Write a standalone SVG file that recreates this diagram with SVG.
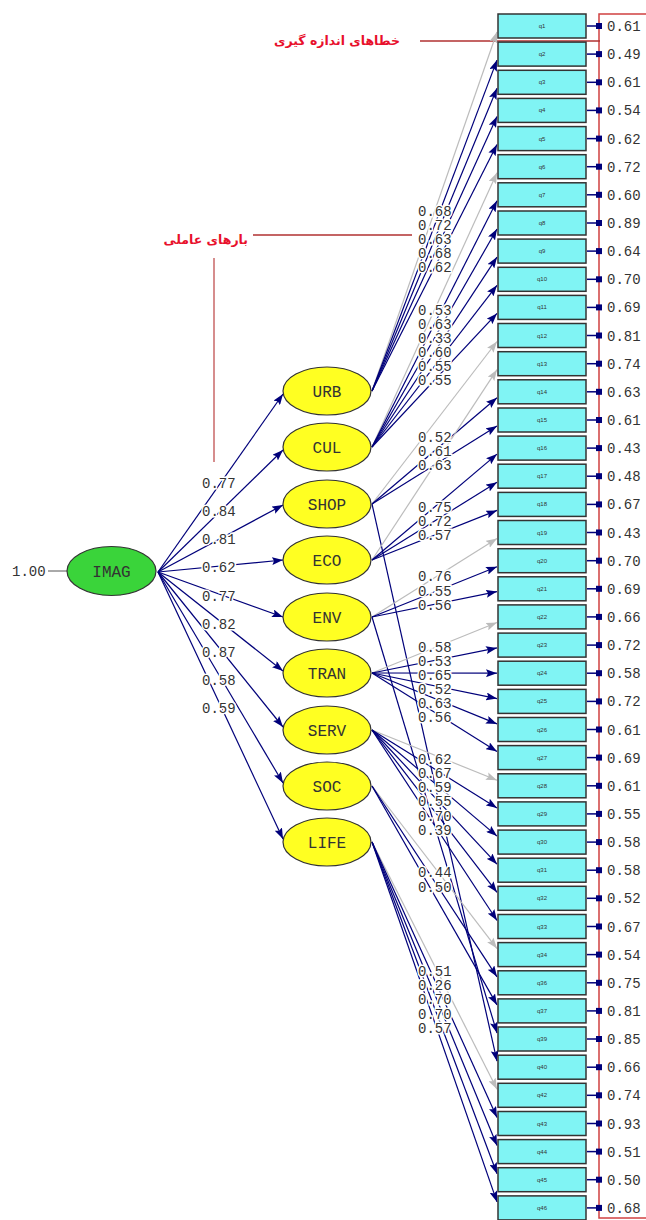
<svg xmlns="http://www.w3.org/2000/svg" width="646" height="1220" viewBox="0 0 646 1220">
<style>
.ln{stroke:#00007a;stroke-width:1.2;fill:none;marker-end:url(#an)}
.lg{stroke:#bcbcbc;stroke-width:1.2;fill:none;marker-end:url(#ag)}
.lbl{font-family:"Liberation Mono",monospace;font-size:14px;fill:#333;stroke:#fff;stroke-width:3;paint-order:stroke}
.box{fill:#80f4f4;stroke:#333;stroke-width:1.5}
.bt{font-family:"Liberation Sans",sans-serif;font-size:6px;fill:#333;text-anchor:middle}
.ev{font-family:"Liberation Mono",monospace;font-size:14px;fill:#333}
.ea{stroke:#00007a;stroke-width:1.5}
.es{fill:#00007a}
.lat{fill:#ffff22;stroke:#333;stroke-width:1.2}
.lt{font-family:"Liberation Mono",monospace;font-size:16px;fill:#333;text-anchor:middle}
.ar{font-family:"DejaVu Sans",sans-serif;font-size:12.5px;font-weight:bold;fill:#e8102c;text-anchor:end}
.rl{stroke:#b03030;stroke-width:1.3;fill:none}
</style>
<defs>
<marker id="an" markerUnits="userSpaceOnUse" markerWidth="12" markerHeight="8" refX="11" refY="4" orient="auto"><path d="M0,0 L11,4 L0,8 L2,4 z" fill="#00007a"/></marker>
<marker id="ag" markerUnits="userSpaceOnUse" markerWidth="12" markerHeight="8" refX="11" refY="4" orient="auto"><path d="M0,0 L11,4 L0,8 L2,4 z" fill="#bcbcbc"/></marker>
</defs>
<rect width="646" height="1220" fill="#fff"/>

<g id="annotations">
<rect x="599" y="14" width="60" height="1204" fill="none" stroke="#d04040" stroke-width="1.5"/>
<text class="ar" x="400" y="45">خطاهای اندازه گیری</text>
<path class="rl" d="M420,41H600"/>
<text class="ar" x="248" y="244">بارهای عاملی</text>
<path class="rl" d="M253,235H412"/>
<path d="M214,258V462" stroke="#c05050" stroke-width="1.3"/>
</g>

<g id="connectors">
<path d="M48,571H67" stroke="#555" stroke-width="1"/>
<path class="ln" d="M158,572L283,394"/>
<path class="ln" d="M158,572L283,450"/>
<path class="ln" d="M158,572L283,505"/>
<path class="ln" d="M158,572L283,560"/>
<path class="ln" d="M158,572L283,617"/>
<path class="ln" d="M158,572L283,671"/>
<path class="ln" d="M158,572L283,727"/>
<path class="ln" d="M158,572L283,783"/>
<path class="ln" d="M158,572L283,839"/>

<path class="lg" d="M372,391L497,32"/>
<path class="ln" d="M372,391L497,60.1"/>
<path class="ln" d="M372,391L497,88.3"/>
<path class="ln" d="M372,391L497,116.4"/>
<path class="ln" d="M372,391L497,144.6"/>

<path class="lg" d="M372,447L497,172.7"/>
<path class="ln" d="M372,447L497,200.8"/>
<path class="ln" d="M372,447L497,229"/>
<path class="ln" d="M372,447L497,257.1"/>
<path class="ln" d="M372,447L497,285.3"/>
<path class="ln" d="M372,447L497,313.4"/>

<path class="lg" d="M372,504L497,341.5"/>
<path class="ln" d="M372,504L497,397.8"/>
<path class="ln" d="M372,504L497,426"/>
<path class="ln" d="M372,504L497,1061.2"/>

<path class="lg" d="M372,560L497,369.7"/>
<path class="ln" d="M372,560L497,454.1"/>
<path class="ln" d="M372,560L497,482.2"/>
<path class="ln" d="M372,560L497,510.4"/>

<path class="lg" d="M372,617L497,538.5"/>
<path class="ln" d="M372,617L497,566.7"/>
<path class="ln" d="M372,617L497,591.6"/>
<path class="ln" d="M372,617L497,1033"/>

<path class="lg" d="M372,673L497,622.5"/>
<path class="ln" d="M372,673L497,647.9"/>
<path class="ln" d="M372,673L497,673.2"/>
<path class="ln" d="M372,673L497,698.6"/>
<path class="ln" d="M372,673L497,723.9"/>
<path class="ln" d="M372,673L497,751.6"/>

<path class="lg" d="M372,730L497,780.2"/>
<path class="ln" d="M372,730L497,807.9"/>
<path class="ln" d="M372,730L497,836.1"/>
<path class="ln" d="M372,730L497,864.2"/>
<path class="ln" d="M372,730L497,892.3"/>
<path class="ln" d="M372,730L497,920.5"/>

<path class="lg" d="M372,786L497,948.6"/>
<path class="ln" d="M372,786L497,976.8"/>
<path class="ln" d="M372,786L497,1004.9"/>

<path class="lg" d="M372,842L497,1089.3"/>
<path class="ln" d="M372,842L497,1117.5"/>
<path class="ln" d="M372,842L497,1145.6"/>
<path class="ln" d="M372,842L497,1173.7"/>
<path class="ln" d="M372,842L497,1201.9"/>
</g>

<g id="loadings">
<text class="lbl" x="12" y="576" stroke="none">1.00</text>
<text class="lbl" x="202" y="488">0.77</text>
<text class="lbl" x="202" y="516">0.84</text>
<text class="lbl" x="202" y="544">0.81</text>
<text class="lbl" x="202" y="572">0.62</text>
<text class="lbl" x="202" y="601">0.77</text>
<text class="lbl" x="202" y="629">0.82</text>
<text class="lbl" x="202" y="657">0.87</text>
<text class="lbl" x="202" y="685">0.58</text>
<text class="lbl" x="202" y="713">0.59</text>

<text class="lbl" x="418" y="216">0.68</text>
<text class="lbl" x="418" y="230">0.72</text>
<text class="lbl" x="418" y="244">0.63</text>
<text class="lbl" x="418" y="258">0.68</text>
<text class="lbl" x="418" y="272">0.62</text>

<text class="lbl" x="418" y="315">0.53</text>
<text class="lbl" x="418" y="329">0.63</text>
<text class="lbl" x="418" y="343">0.33</text>
<text class="lbl" x="418" y="357">0.60</text>
<text class="lbl" x="418" y="371">0.55</text>
<text class="lbl" x="418" y="385">0.55</text>

<text class="lbl" x="418" y="441.5">0.52</text>
<text class="lbl" x="418" y="456">0.61</text>
<text class="lbl" x="418" y="470">0.63</text>

<text class="lbl" x="418" y="512">0.75</text>
<text class="lbl" x="418" y="526">0.72</text>
<text class="lbl" x="418" y="540">0.57</text>

<text class="lbl" x="418" y="581">0.76</text>
<text class="lbl" x="418" y="595.5">0.55</text>
<text class="lbl" x="418" y="610">0.56</text>

<text class="lbl" x="418" y="652">0.58</text>
<text class="lbl" x="418" y="666">0.53</text>
<text class="lbl" x="418" y="680">0.65</text>
<text class="lbl" x="418" y="694">0.52</text>
<text class="lbl" x="418" y="708">0.63</text>
<text class="lbl" x="418" y="722">0.56</text>

<text class="lbl" x="418" y="764">0.62</text>
<text class="lbl" x="418" y="778">0.67</text>
<text class="lbl" x="418" y="792">0.59</text>
<text class="lbl" x="418" y="806">0.55</text>
<text class="lbl" x="418" y="820.5">0.70</text>
<text class="lbl" x="418" y="835">0.39</text>

<text class="lbl" x="418" y="876.5">0.44</text>
<text class="lbl" x="418" y="891.5">0.50</text>

<text class="lbl" x="418" y="976">0.51</text>
<text class="lbl" x="418" y="990">0.26</text>
<text class="lbl" x="418" y="1004">0.70</text>
<text class="lbl" x="418" y="1018.5">0.70</text>
<text class="lbl" x="418" y="1033">0.57</text>
</g>

<g id="IMAG"><ellipse cx="111.5" cy="571" rx="44.5" ry="24.5" fill="#3ad43a" stroke="#333" stroke-width="1.2"/><text class="lt" x="111.5" y="577">IMAG</text></g>
<g id="URB"><ellipse class="lat" cx="327" cy="391" rx="44" ry="24"/><text class="lt" x="327" y="397">URB</text></g>
<g id="CUL"><ellipse class="lat" cx="327" cy="447" rx="44" ry="24"/><text class="lt" x="327" y="453">CUL</text></g>
<g id="SHOP"><ellipse class="lat" cx="327" cy="504" rx="44" ry="24"/><text class="lt" x="327" y="510">SHOP</text></g>
<g id="ECO"><ellipse class="lat" cx="327" cy="560" rx="44" ry="24"/><text class="lt" x="327" y="566">ECO</text></g>
<g id="ENV"><ellipse class="lat" cx="327" cy="617" rx="44" ry="24"/><text class="lt" x="327" y="623">ENV</text></g>
<g id="TRAN"><ellipse class="lat" cx="327" cy="673" rx="44" ry="24"/><text class="lt" x="327" y="679">TRAN</text></g>
<g id="SERV"><ellipse class="lat" cx="327" cy="730" rx="44" ry="24"/><text class="lt" x="327" y="736">SERV</text></g>
<g id="SOC"><ellipse class="lat" cx="327" cy="786" rx="44" ry="24"/><text class="lt" x="327" y="792">SOC</text></g>
<g id="LIFE"><ellipse class="lat" cx="327" cy="842" rx="44" ry="24"/><text class="lt" x="327" y="848">LIFE</text></g>

<g id="q1" transform="translate(0,26)"><rect class="box" x="498" y="-12" width="88" height="24"/><text class="bt" x="542" y="2">q1</text><path class="ea" d="M587,0H599"/><rect class="es" x="596" y="-3" width="6" height="6"/><text class="ev" x="607" y="5">0.61</text></g>
<g id="q2" transform="translate(0,54.1)"><rect class="box" x="498" y="-12" width="88" height="24"/><text class="bt" x="542" y="2">q2</text><path class="ea" d="M587,0H599"/><rect class="es" x="596" y="-3" width="6" height="6"/><text class="ev" x="607" y="5">0.49</text></g>
<g id="q3" transform="translate(0,82.3)"><rect class="box" x="498" y="-12" width="88" height="24"/><text class="bt" x="542" y="2">q3</text><path class="ea" d="M587,0H599"/><rect class="es" x="596" y="-3" width="6" height="6"/><text class="ev" x="607" y="5">0.61</text></g>
<g id="q4" transform="translate(0,110.4)"><rect class="box" x="498" y="-12" width="88" height="24"/><text class="bt" x="542" y="2">q4</text><path class="ea" d="M587,0H599"/><rect class="es" x="596" y="-3" width="6" height="6"/><text class="ev" x="607" y="5">0.54</text></g>
<g id="q5" transform="translate(0,138.6)"><rect class="box" x="498" y="-12" width="88" height="24"/><text class="bt" x="542" y="2">q5</text><path class="ea" d="M587,0H599"/><rect class="es" x="596" y="-3" width="6" height="6"/><text class="ev" x="607" y="5">0.62</text></g>
<g id="q6" transform="translate(0,166.7)"><rect class="box" x="498" y="-12" width="88" height="24"/><text class="bt" x="542" y="2">q6</text><path class="ea" d="M587,0H599"/><rect class="es" x="596" y="-3" width="6" height="6"/><text class="ev" x="607" y="5">0.72</text></g>
<g id="q7" transform="translate(0,194.8)"><rect class="box" x="498" y="-12" width="88" height="24"/><text class="bt" x="542" y="2">q7</text><path class="ea" d="M587,0H599"/><rect class="es" x="596" y="-3" width="6" height="6"/><text class="ev" x="607" y="5">0.60</text></g>
<g id="q8" transform="translate(0,223)"><rect class="box" x="498" y="-12" width="88" height="24"/><text class="bt" x="542" y="2">q8</text><path class="ea" d="M587,0H599"/><rect class="es" x="596" y="-3" width="6" height="6"/><text class="ev" x="607" y="5">0.89</text></g>
<g id="q9" transform="translate(0,251.1)"><rect class="box" x="498" y="-12" width="88" height="24"/><text class="bt" x="542" y="2">q9</text><path class="ea" d="M587,0H599"/><rect class="es" x="596" y="-3" width="6" height="6"/><text class="ev" x="607" y="5">0.64</text></g>
<g id="q10" transform="translate(0,279.3)"><rect class="box" x="498" y="-12" width="88" height="24"/><text class="bt" x="542" y="2">q10</text><path class="ea" d="M587,0H599"/><rect class="es" x="596" y="-3" width="6" height="6"/><text class="ev" x="607" y="5">0.70</text></g>
<g id="q11" transform="translate(0,307.4)"><rect class="box" x="498" y="-12" width="88" height="24"/><text class="bt" x="542" y="2">q11</text><path class="ea" d="M587,0H599"/><rect class="es" x="596" y="-3" width="6" height="6"/><text class="ev" x="607" y="5">0.69</text></g>
<g id="q12" transform="translate(0,335.5)"><rect class="box" x="498" y="-12" width="88" height="24"/><text class="bt" x="542" y="2">q12</text><path class="ea" d="M587,0H599"/><rect class="es" x="596" y="-3" width="6" height="6"/><text class="ev" x="607" y="5">0.81</text></g>
<g id="q13" transform="translate(0,363.7)"><rect class="box" x="498" y="-12" width="88" height="24"/><text class="bt" x="542" y="2">q13</text><path class="ea" d="M587,0H599"/><rect class="es" x="596" y="-3" width="6" height="6"/><text class="ev" x="607" y="5">0.74</text></g>
<g id="q14" transform="translate(0,391.8)"><rect class="box" x="498" y="-12" width="88" height="24"/><text class="bt" x="542" y="2">q14</text><path class="ea" d="M587,0H599"/><rect class="es" x="596" y="-3" width="6" height="6"/><text class="ev" x="607" y="5">0.63</text></g>
<g id="q15" transform="translate(0,420)"><rect class="box" x="498" y="-12" width="88" height="24"/><text class="bt" x="542" y="2">q15</text><path class="ea" d="M587,0H599"/><rect class="es" x="596" y="-3" width="6" height="6"/><text class="ev" x="607" y="5">0.61</text></g>
<g id="q16" transform="translate(0,448.1)"><rect class="box" x="498" y="-12" width="88" height="24"/><text class="bt" x="542" y="2">q16</text><path class="ea" d="M587,0H599"/><rect class="es" x="596" y="-3" width="6" height="6"/><text class="ev" x="607" y="5">0.43</text></g>
<g id="q17" transform="translate(0,476.2)"><rect class="box" x="498" y="-12" width="88" height="24"/><text class="bt" x="542" y="2">q17</text><path class="ea" d="M587,0H599"/><rect class="es" x="596" y="-3" width="6" height="6"/><text class="ev" x="607" y="5">0.48</text></g>
<g id="q18" transform="translate(0,504.4)"><rect class="box" x="498" y="-12" width="88" height="24"/><text class="bt" x="542" y="2">q18</text><path class="ea" d="M587,0H599"/><rect class="es" x="596" y="-3" width="6" height="6"/><text class="ev" x="607" y="5">0.67</text></g>
<g id="q19" transform="translate(0,532.5)"><rect class="box" x="498" y="-12" width="88" height="24"/><text class="bt" x="542" y="2">q19</text><path class="ea" d="M587,0H599"/><rect class="es" x="596" y="-3" width="6" height="6"/><text class="ev" x="607" y="5">0.43</text></g>
<g id="q20" transform="translate(0,560.7)"><rect class="box" x="498" y="-12" width="88" height="24"/><text class="bt" x="542" y="2">q20</text><path class="ea" d="M587,0H599"/><rect class="es" x="596" y="-3" width="6" height="6"/><text class="ev" x="607" y="5">0.70</text></g>
<g id="q21" transform="translate(0,588.8)"><rect class="box" x="498" y="-12" width="88" height="24"/><text class="bt" x="542" y="2">q21</text><path class="ea" d="M587,0H599"/><rect class="es" x="596" y="-3" width="6" height="6"/><text class="ev" x="607" y="5">0.69</text></g>
<g id="q22" transform="translate(0,616.9)"><rect class="box" x="498" y="-12" width="88" height="24"/><text class="bt" x="542" y="2">q22</text><path class="ea" d="M587,0H599"/><rect class="es" x="596" y="-3" width="6" height="6"/><text class="ev" x="607" y="5">0.66</text></g>
<g id="q23" transform="translate(0,645.1)"><rect class="box" x="498" y="-12" width="88" height="24"/><text class="bt" x="542" y="2">q23</text><path class="ea" d="M587,0H599"/><rect class="es" x="596" y="-3" width="6" height="6"/><text class="ev" x="607" y="5">0.72</text></g>
<g id="q24" transform="translate(0,673.2)"><rect class="box" x="498" y="-12" width="88" height="24"/><text class="bt" x="542" y="2">q24</text><path class="ea" d="M587,0H599"/><rect class="es" x="596" y="-3" width="6" height="6"/><text class="ev" x="607" y="5">0.58</text></g>
<g id="q25" transform="translate(0,701.4)"><rect class="box" x="498" y="-12" width="88" height="24"/><text class="bt" x="542" y="2">q25</text><path class="ea" d="M587,0H599"/><rect class="es" x="596" y="-3" width="6" height="6"/><text class="ev" x="607" y="5">0.72</text></g>
<g id="q26" transform="translate(0,729.5)"><rect class="box" x="498" y="-12" width="88" height="24"/><text class="bt" x="542" y="2">q26</text><path class="ea" d="M587,0H599"/><rect class="es" x="596" y="-3" width="6" height="6"/><text class="ev" x="607" y="5">0.61</text></g>
<g id="q27" transform="translate(0,757.6)"><rect class="box" x="498" y="-12" width="88" height="24"/><text class="bt" x="542" y="2">q27</text><path class="ea" d="M587,0H599"/><rect class="es" x="596" y="-3" width="6" height="6"/><text class="ev" x="607" y="5">0.69</text></g>
<g id="q28" transform="translate(0,785.8)"><rect class="box" x="498" y="-12" width="88" height="24"/><text class="bt" x="542" y="2">q28</text><path class="ea" d="M587,0H599"/><rect class="es" x="596" y="-3" width="6" height="6"/><text class="ev" x="607" y="5">0.61</text></g>
<g id="q29" transform="translate(0,813.9)"><rect class="box" x="498" y="-12" width="88" height="24"/><text class="bt" x="542" y="2">q29</text><path class="ea" d="M587,0H599"/><rect class="es" x="596" y="-3" width="6" height="6"/><text class="ev" x="607" y="5">0.55</text></g>
<g id="q30" transform="translate(0,842.1)"><rect class="box" x="498" y="-12" width="88" height="24"/><text class="bt" x="542" y="2">q30</text><path class="ea" d="M587,0H599"/><rect class="es" x="596" y="-3" width="6" height="6"/><text class="ev" x="607" y="5">0.58</text></g>
<g id="q31" transform="translate(0,870.2)"><rect class="box" x="498" y="-12" width="88" height="24"/><text class="bt" x="542" y="2">q31</text><path class="ea" d="M587,0H599"/><rect class="es" x="596" y="-3" width="6" height="6"/><text class="ev" x="607" y="5">0.58</text></g>
<g id="q32" transform="translate(0,898.3)"><rect class="box" x="498" y="-12" width="88" height="24"/><text class="bt" x="542" y="2">q32</text><path class="ea" d="M587,0H599"/><rect class="es" x="596" y="-3" width="6" height="6"/><text class="ev" x="607" y="5">0.52</text></g>
<g id="q33" transform="translate(0,926.5)"><rect class="box" x="498" y="-12" width="88" height="24"/><text class="bt" x="542" y="2">q33</text><path class="ea" d="M587,0H599"/><rect class="es" x="596" y="-3" width="6" height="6"/><text class="ev" x="607" y="5">0.67</text></g>
<g id="q34" transform="translate(0,954.6)"><rect class="box" x="498" y="-12" width="88" height="24"/><text class="bt" x="542" y="2">q34</text><path class="ea" d="M587,0H599"/><rect class="es" x="596" y="-3" width="6" height="6"/><text class="ev" x="607" y="5">0.54</text></g>
<g id="q36" transform="translate(0,982.8)"><rect class="box" x="498" y="-12" width="88" height="24"/><text class="bt" x="542" y="2">q36</text><path class="ea" d="M587,0H599"/><rect class="es" x="596" y="-3" width="6" height="6"/><text class="ev" x="607" y="5">0.75</text></g>
<g id="q37" transform="translate(0,1010.9)"><rect class="box" x="498" y="-12" width="88" height="24"/><text class="bt" x="542" y="2">q37</text><path class="ea" d="M587,0H599"/><rect class="es" x="596" y="-3" width="6" height="6"/><text class="ev" x="607" y="5">0.81</text></g>
<g id="q39" transform="translate(0,1039)"><rect class="box" x="498" y="-12" width="88" height="24"/><text class="bt" x="542" y="2">q39</text><path class="ea" d="M587,0H599"/><rect class="es" x="596" y="-3" width="6" height="6"/><text class="ev" x="607" y="5">0.85</text></g>
<g id="q40" transform="translate(0,1067.2)"><rect class="box" x="498" y="-12" width="88" height="24"/><text class="bt" x="542" y="2">q40</text><path class="ea" d="M587,0H599"/><rect class="es" x="596" y="-3" width="6" height="6"/><text class="ev" x="607" y="5">0.66</text></g>
<g id="q42" transform="translate(0,1095.3)"><rect class="box" x="498" y="-12" width="88" height="24"/><text class="bt" x="542" y="2">q42</text><path class="ea" d="M587,0H599"/><rect class="es" x="596" y="-3" width="6" height="6"/><text class="ev" x="607" y="5">0.74</text></g>
<g id="q43" transform="translate(0,1123.5)"><rect class="box" x="498" y="-12" width="88" height="24"/><text class="bt" x="542" y="2">q43</text><path class="ea" d="M587,0H599"/><rect class="es" x="596" y="-3" width="6" height="6"/><text class="ev" x="607" y="5">0.93</text></g>
<g id="q44" transform="translate(0,1151.6)"><rect class="box" x="498" y="-12" width="88" height="24"/><text class="bt" x="542" y="2">q44</text><path class="ea" d="M587,0H599"/><rect class="es" x="596" y="-3" width="6" height="6"/><text class="ev" x="607" y="5">0.51</text></g>
<g id="q45" transform="translate(0,1179.7)"><rect class="box" x="498" y="-12" width="88" height="24"/><text class="bt" x="542" y="2">q45</text><path class="ea" d="M587,0H599"/><rect class="es" x="596" y="-3" width="6" height="6"/><text class="ev" x="607" y="5">0.50</text></g>
<g id="q46" transform="translate(0,1207.9)"><rect class="box" x="498" y="-12" width="88" height="24"/><text class="bt" x="542" y="2">q46</text><path class="ea" d="M587,0H599"/><rect class="es" x="596" y="-3" width="6" height="6"/><text class="ev" x="607" y="5">0.68</text></g>
</svg>
